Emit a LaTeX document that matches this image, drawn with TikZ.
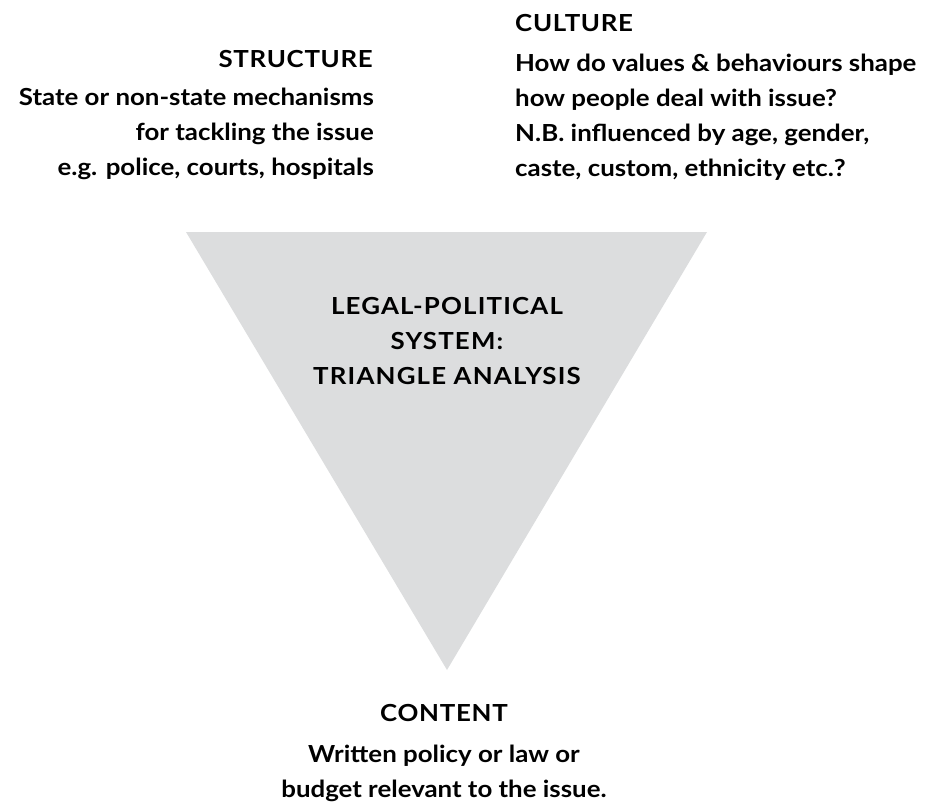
\documentclass[tikz,border=0pt]{standalone}
\usepackage{fontspec}
\setmainfont{Lato}[FakeStretch=1.1]
\newfontfamily\headfont{Lato}[LetterSpace=3,FakeStretch=1.1]
\newfontfamily\titlefont{Lato}[LetterSpace=5,FakeStretch=1.1]
\definecolor{trigray}{HTML}{DCDDDE}
\begin{document}
\begin{tikzpicture}[x=1pt,y=1pt,
  head/.style={inner sep=0pt,font=\headfont\bfseries\fontsize{23.5}{35}\selectfont},
  title/.style={inner sep=0pt,font=\titlefont\bfseries\fontsize{23.5}{35}\selectfont},
  body/.style={inner sep=0pt,font=\bfseries\fontsize{23.5}{34.8}\selectfont},
  body2/.style={inner sep=0pt,font=\bfseries\fontsize{23.5}{35}\selectfont}]
\useasboundingbox (0,0) rectangle (927,-803);
\fill[trigray] (186,-232) coordinate (tl) -- (707,-232) coordinate (tr) -- (447,-670) coordinate (ap) -- cycle;
\node[head,anchor=base east] (structh) at (373,-67) {STRUCTURE};
\node[body,anchor=base east,align=right] (structb) at (374,-175) {State or non-state mechanisms\\for tackling the issue\\e.g. police, courts, hospitals};
\node[head,anchor=base west] (cultureh) at (515,-31) {CULTURE};
\node[body,anchor=base west,align=left] (cultureb) at (515,-176) {How do values \& behaviours shape\\how people deal with issue?\\N.B. influenced by age, gender,\\caste, custom, ethnicity etc.?};
\node[title,anchor=base,align=center] (center) at (447,-384) {LEGAL-POLITICAL\\SYSTEM:\\TRIANGLE ANALYSIS};
\node[head,anchor=base] (contenth) at (444,-721) {CONTENT};
\node[body2,anchor=base,align=center] (contentb) at (444,-797) {Written policy or law or\\budget relevant to the issue.};
\end{tikzpicture}
\end{document}
